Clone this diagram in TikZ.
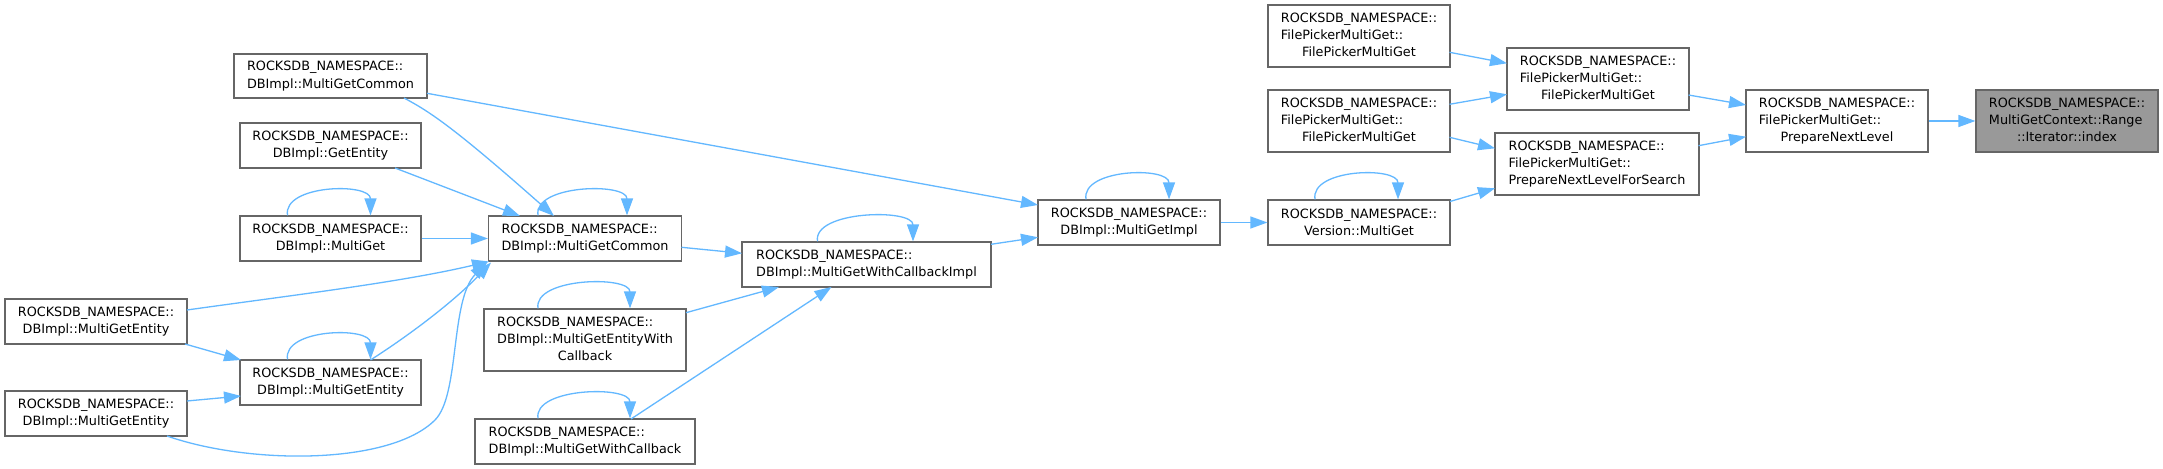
\documentclass[tikz,border=0pt]{standalone}
\usepackage{fontspec}
\setmainfont{DejaVu Sans}
\usetikzlibrary{arrows.meta,calc}
\definecolor{edgeblue}{HTML}{63B8FF}
\definecolor{bordergray}{HTML}{666666}
\definecolor{idxgray}{HTML}{999999}
\newcommand{\txl}[1]{\begin{tabular}{@{}l@{}}#1\end{tabular}}
\newcommand{\cln}[1]{\multicolumn{1}{@{}c@{}}{#1}}
\begin{document}
\begin{tikzpicture}[x=0.5pt,y=-0.5pt,
  nd/.style={draw=bordergray, line width=0.6pt, fill=white, inner sep=0pt,
    font=\fontsize{6.4}{8.6}\selectfont, align=center},
  two/.style={minimum width=#1pt, minimum height=22.5pt},
  three/.style={minimum width=#1pt, minimum height=31pt},
  edge/.style={draw=edgeblue, line width=0.65pt, -{Triangle[length=8.5pt,width=6pt]}}]
\fill[white] (0,0) rectangle (2163,469);
\useasboundingbox (0,0) rectangle (2163,469);

% nodes
\node[nd,minimum width=96.5pt,minimum height=22pt] (A) at (330.5,76) {\txl{ROCKSDB\_NAMESPACE::\\DBImpl::MultiGetCommon}};
\node[nd,two=90.5] (GE) at (330.5,145.5) {ROCKSDB\_NAMESPACE::\\DBImpl::GetEntity};
\node[nd,two=90.5] (MG) at (330.5,238.5) {ROCKSDB\_NAMESPACE::\\DBImpl::MultiGet};
\node[nd,two=96.5] (B) at (585,238.5) {\txl{ROCKSDB\_NAMESPACE::\\DBImpl::MultiGetCommon}};
\node[nd,two=91] (E1) at (96,321.5) {ROCKSDB\_NAMESPACE::\\DBImpl::MultiGetEntity};
\node[nd,two=90.5] (E2) at (330.5,382.5) {ROCKSDB\_NAMESPACE::\\DBImpl::MultiGetEntity};
\node[nd,two=91] (E3) at (96,413.5) {ROCKSDB\_NAMESPACE::\\DBImpl::MultiGetEntity};
\node[nd,three=101] (MGEWC) at (585,340) {\txl{ROCKSDB\_NAMESPACE::\\DBImpl::MultiGetEntityWith\\ \cln{Callback}}};
\node[nd,two=110] (MGWC) at (585,441.5) {\txl{ROCKSDB\_NAMESPACE::\\DBImpl::MultiGetWithCallback}};
\node[nd,two=124.5] (MGWCI) at (866.5,264.5) {\txl{ROCKSDB\_NAMESPACE::\\DBImpl::MultiGetWithCallbackImpl}};
\node[nd,two=91] (MGI) at (1129,222.5) {ROCKSDB\_NAMESPACE::\\DBImpl::MultiGetImpl};
\node[nd,two=91] (V) at (1359,222.5) {ROCKSDB\_NAMESPACE::\\Version::MultiGet};
\node[nd,three=91] (FP1) at (1359,36) {\txl{ROCKSDB\_NAMESPACE::\\FilePickerMultiGet::\\ \cln{FilePickerMultiGet}}};
\node[nd,three=91] (FP2) at (1598,79) {\txl{ROCKSDB\_NAMESPACE::\\FilePickerMultiGet::\\ \cln{FilePickerMultiGet}}};
\node[nd,three=91] (FP3) at (1359,121) {\txl{ROCKSDB\_NAMESPACE::\\FilePickerMultiGet::\\ \cln{FilePickerMultiGet}}};
\node[nd,three=102] (PNLFS) at (1597,164) {\txl{ROCKSDB\_NAMESPACE::\\FilePickerMultiGet::\\PrepareNextLevelForSearch}};
\node[nd,three=91] (PNL) at (1837,121) {\txl{ROCKSDB\_NAMESPACE::\\FilePickerMultiGet::\\ \cln{PrepareNextLevel}}};
\node[nd,three=91,fill=idxgray] (IDX) at (2067,121) {\txl{ROCKSDB\_NAMESPACE::\\MultiGetContext::Range\\ \cln{::Iterator::index}}};

% edges
\draw[edge] (PNL.east) -- (IDX.west);
\draw[edge] ($(FP2)+(90.5,16)$) -- ($(PNL)+(-91,-16)$);
\draw[edge] ($(PNLFS)+(101.5,-18.3)$) -- ($(PNL)+(-91,15.7)$);
\draw[edge] ($(FP1)+(90.5,16.3)$) -- ($(FP2)+(-91,-15.7)$);
\draw[edge] ($(FP3)+(90.5,-16.7)$) -- ($(FP2)+(-91,15.3)$);
\draw[edge] ($(FP3)+(90.5,16.3)$) -- ($(PNLFS)+(-102,-15.7)$);
\draw[edge] ($(V)+(91,-21)$) -- ($(PNLFS)+(-102,24.3)$);
\draw[edge] (MGI.east) -- (V.west);
\draw[edge] ($(A)+(96.5,17.3)$) -- ($(MGI)+(-91,-17.5)$);
\draw[edge] ($(MGWCI)+(124.5,-20.2)$) -- ($(MGI)+(-91,14.8)$);
\draw[edge] ($(B)+(96.5,8.8)$) -- ($(MGWCI)+(-124.5,-11.2)$);
\draw[edge] ($(MGEWC)+(101,-27.3)$) -- ($(MGWCI)+(-87.5,22.5)$);
\draw[edge] ($(MGWC)+(46,-22.5)$) -- ($(MGWCI)+(-35,22.5)$);
\draw[edge] ($(A)+(73.5,22)$) .. controls ($(A)+(100,36)$) and ($(B)+(-130,-110)$) .. ($(B)+(-31,-22.5)$);
\draw[edge] ($(GE)+(64.5,22.5)$) -- ($(B)+(-65,-22.5)$);
\draw[edge] (MG.east) -- (B.west);
\draw[edge] ($(E1)+(91,-11.5)$) .. controls ($(E1)+(194,-26)$) and ($(B)+(-185,44)$) .. ($(B)+(-96,23)$);
\draw[edge] ($(E2)+(40,-22.5)$) .. controls ($(E2)+(80,-48)$) and ($(B)+(-130,62)$) .. ($(B)+(-94,24)$);
\draw[edge] ($(E3)+(71,22.5)$) .. controls ($(E3)+(154,51.5)$) and ($(E3)+(294,51.5)$) .. ($(E3)+(339,6.5)$)
   .. controls ($(E3)+(364,-18.5)$) and ($(B)+(-135,61.5)$) .. ($(B)+(-98,24)$);
\draw[edge] ($(E1)+(89,22.5)$) -- ($(E2)+(-89.5,-22.5)$);
\draw[edge] ($(E3)+(91,-12.5)$) -- ($(E2)+(-89.5,13.5)$);

% self loops
\foreach \n/\a/\b in {MG/-43/40, B/-47/42, E2/-43/40, MGEWC/-47/45, MGWC/-47/45, MGWCI/-49/46.5, MGI/-43/40, V/-44/39}{
  \draw[edge] ($(\n.north)+(\a,0)$) .. controls ($(\n.north)+(\a-5,-31)$) and ($(\n.north)+(\b,-33)$) .. ($(\n.north)+(\b,0)$);
}
\end{tikzpicture}
\end{document}
